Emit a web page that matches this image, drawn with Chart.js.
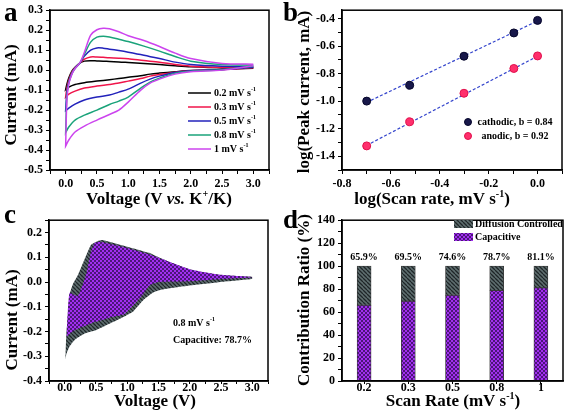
<!DOCTYPE html>
<html>
<head>
<meta charset="utf-8">
<script src="https://cdn.jsdelivr.net/npm/chart.js@4.4.1/dist/chart.umd.min.js"></script>
<style>
  body { margin: 0; background: #fff; }
  canvas { position: absolute; }
</style>
</head>
<body>
<canvas id="cA" width="283" height="210" style="left:0;top:0"></canvas>
<canvas id="cB" width="284" height="210" style="left:283px;top:0"></canvas>
<canvas id="cC" width="283" height="210" style="left:0;top:210px"></canvas>
<canvas id="cD" width="284" height="210" style="left:283px;top:210px"></canvas>
<script>
// ---- panel a: CV curves (V vs. K+/K, mA) ----
const rateLabels = ['0.2 mV s^{-1}', '0.3 mV s^{-1}', '0.5 mV s^{-1}', '0.8 mV s^{-1}', '1 mV s^{-1}'];
const anodV = [0, 0.02, 0.05, 0.1, 0.15, 0.23, 0.3, 0.4, 0.5, 0.6, 0.7, 0.85, 1.0, 1.25, 1.5, 1.75, 2.0, 2.5, 3.0];
const anod02 = [-0.098, -0.07, -0.04, -0.005, 0.014, 0.036, 0.045, 0.047, 0.046, 0.045, 0.043, 0.041, 0.038, 0.033, 0.028, 0.022, 0.017, 0.012, 0.012];
const anod03 = [-0.135, -0.09, -0.05, -0.01, 0.012, 0.036, 0.055, 0.066, 0.066, 0.064, 0.062, 0.06, 0.057, 0.048, 0.04, 0.028, 0.02, 0.014, 0.013];
const anod05 = [-0.203, -0.11, -0.06, -0.015, 0.01, 0.036, 0.07, 0.1, 0.111, 0.11, 0.105, 0.098, 0.09, 0.075, 0.058, 0.04, 0.028, 0.02, 0.018];
const anod08 = [-0.313, -0.13, -0.065, -0.018, 0.008, 0.037, 0.08, 0.14, 0.165, 0.17, 0.166, 0.155, 0.143, 0.12, 0.095, 0.068, 0.045, 0.028, 0.025];
const anod1  = [-0.38, -0.15, -0.07, -0.02, 0.008, 0.038, 0.09, 0.175, 0.202, 0.21, 0.207, 0.192, 0.172, 0.148, 0.118, 0.085, 0.058, 0.033, 0.03];
const cathV = [0, 0.05, 0.15, 0.3, 0.5, 0.7, 0.85, 1.0, 1.2, 1.35, 1.5, 1.75, 2.0, 2.5, 3.0];
const cath02 = [-0.098, -0.085, -0.072, -0.063, -0.055, -0.048, -0.042, -0.036, -0.028, -0.02, -0.015, -0.008, -0.002, 0.003, 0.01];
const cath03 = [-0.135, -0.12, -0.105, -0.09, -0.08, -0.072, -0.065, -0.055, -0.042, -0.03, -0.022, -0.01, -0.003, 0.003, 0.012];
const cath05 = [-0.203, -0.19, -0.17, -0.15, -0.135, -0.125, -0.11, -0.095, -0.065, -0.045, -0.03, -0.012, -0.003, 0.003, 0.015];
const cath08 = [-0.313, -0.285, -0.25, -0.225, -0.2, -0.172, -0.155, -0.135, -0.09, -0.06, -0.04, -0.015, -0.005, 0.002, 0.02];
const cath1  = [-0.38, -0.35, -0.31, -0.28, -0.25, -0.222, -0.2, -0.16, -0.1, -0.065, -0.045, -0.02, -0.008, 0.0, 0.022];
const cvColors = ['#000000', '#f0144a', '#2222bb', '#1aa37a', '#cc44ee'];

// ---- panel b: log(peak current) vs log(scan rate) ----
const logRate = [-0.699, -0.523, -0.301, -0.097, 0.0];
const cathodicLog = [-1.0, -0.885, -0.674, -0.505, -0.414];
const anodicLog = [-1.325, -1.15, -0.943, -0.763, -0.672];
const fitX = [-0.7, 0.0];
const cathodicFit = [-1.01, -0.418];
const anodicFit = [-1.322, -0.674];
const bLabels = ['cathodic, b = 0.84', 'anodic, b = 0.92'];

// ---- panel c: 0.8 mV/s separation ----
const totAnodV = [0.01, 0.03, 0.05, 0.08, 0.13, 0.21, 0.32, 0.42, 0.53, 0.6, 0.8, 1.0, 1.35, 1.5, 2.0, 2.5, 3.0];
const totAnodI = [-0.312, -0.2, -0.14, -0.05, -0.01, 0.027, 0.093, 0.15, 0.166, 0.17, 0.157, 0.143, 0.118, 0.1, 0.05, 0.028, 0.021];
const totCathV = [0.01, 0.03, 0.08, 0.16, 0.32, 0.5, 0.77, 0.98, 1.1, 1.27, 1.43, 1.6, 2.0, 2.5, 3.0];
const totCathI = [-0.312, -0.29, -0.26, -0.234, -0.208, -0.195, -0.162, -0.136, -0.118, -0.07, -0.04, -0.028, -0.014, 0.0, 0.012];
const capAnodV = [0.03, 0.05, 0.08, 0.21, 0.34, 0.42, 0.48, 0.56, 0.8, 1.0, 1.35, 1.5, 2.0, 2.5, 3.0];
const capAnodI = [-0.221, -0.12, -0.044, -0.058, 0.027, 0.119, 0.158, 0.163, 0.15, 0.138, 0.112, 0.098, 0.052, 0.029, 0.02];
const capCathV = [0.03, 0.16, 0.48, 0.74, 0.95, 1.11, 1.27, 1.35, 1.5, 2.0, 2.5, 3.0];
const capCathI = [-0.221, -0.195, -0.162, -0.142, -0.13, -0.09, -0.044, -0.015, 0.0, 0.003, 0.012, 0.018];

// ---- panel d: contribution ratio ----
const scanRates = ['0.2', '0.3', '0.5', '0.8', '1'];
const capacitive = [65.9, 69.5, 74.6, 78.7, 81.1];
const diffusion = [34.1, 30.5, 25.4, 21.3, 18.9];

const SERIF = '"Liberation Serif", "Times New Roman", serif';
const pts = (xs, ys) => xs.map((x, i) => ({x: x, y: ys[i]}));
const loop = (cV, c, aV, a) => pts(cV, c).reverse().concat(pts(aV, a));

// text with ^{sup} and *italic* parts
function rich(ctx, str, x, y, size, opt) {
  opt = opt || {};
  const parts = [];
  const re = /\^\{([^}]*)\}|\*([^*]*)\*|([^^*]+)/g;
  let m;
  while ((m = re.exec(str))) {
    if (m[1] !== undefined) parts.push({t: m[1], sup: true});
    else if (m[2] !== undefined) parts.push({t: m[2], it: true});
    else parts.push({t: m[3]});
  }
  const fontOf = p => (p.it ? 'italic ' : '') + 'bold ' + (p.sup ? Math.round(size * 0.6) : size) + 'px ' + SERIF;
  let w = 0;
  parts.forEach(p => { ctx.font = fontOf(p); p.w = ctx.measureText(p.t).width; w += p.w; });
  ctx.save();
  ctx.translate(x, y);
  if (opt.rot) ctx.rotate(opt.rot);
  let cx = opt.align === 'left' ? 0 : -w / 2;
  ctx.textBaseline = 'middle';
  ctx.textAlign = 'left';
  ctx.fillStyle = '#000';
  parts.forEach(p => { ctx.font = fontOf(p); ctx.fillText(p.t, cx, p.sup ? -size * 0.35 : 0); cx += p.w; });
  ctx.restore();
}

function letter(ctx, ch, x, y) {
  ctx.save();
  ctx.font = 'bold 27px ' + SERIF;
  ctx.fillStyle = '#000';
  ctx.textBaseline = 'alphabetic';
  ctx.fillText(ch, x, y);
  ctx.restore();
}

function framePlugin(extra) {
  return {
    id: 'frame',
    afterDraw(chart) {
      const ctx = chart.ctx, a = chart.chartArea;
      ctx.save();
      ctx.strokeStyle = '#000';
      ctx.lineWidth = 1.5;
      ctx.strokeRect(a.left, a.top, a.right - a.left, a.bottom - a.top);
      ctx.restore();
      extra(chart, ctx);
    }
  };
}

function axis(min, max, step, every, dec, size, pad) {
  return {
    type: 'linear', min: min, max: max,
    afterFit: s => { if (s.isHorizontal()) s.height = size; else s.width = size; },
    ticks: {
      stepSize: step, includeBounds: false, autoSkip: false, maxRotation: 0,
      padding: pad === undefined ? 3 : pad, color: '#000',
      font: {family: SERIF, weight: 'bold', size: 12},
      callback: v => {
        const r = v / every;
        if (Math.abs(r - Math.round(r)) > 1e-6) return '';
        return (Math.abs(v) < 1e-9 ? 0 : v).toFixed(dec);
      }
    },
    grid: {drawOnChartArea: false, tickLength: pad === undefined ? 4 : 3, tickColor: '#000', tickWidth: 1},
    border: {color: '#000', width: 1.5}
  };
}

function tile(size, draw) {
  const c = document.createElement('canvas');
  c.width = c.height = size;
  draw(c.getContext('2d'), size);
  return c;
}
const hatchTile = tile(4, (g, s) => {
  g.fillStyle = '#5f6f70'; g.fillRect(0, 0, s, s);
  g.strokeStyle = '#1f2628'; g.lineWidth = 1.3;
  g.beginPath();
  [-s, 0, s].forEach(o => { g.moveTo(o, 0); g.lineTo(o + s, s); });
  g.stroke();
});
const checkTile = tile(4, (g, s) => {
  g.fillStyle = '#a22ff0'; g.fillRect(0, 0, s, s);
  g.fillStyle = '#4c1679'; g.fillRect(0, 0, 2, 2); g.fillRect(2, 2, 2, 2);
});
const patterns = id => {
  const ctx = document.getElementById(id).getContext('2d');
  return {hatch: ctx.createPattern(hatchTile, 'repeat'), check: ctx.createPattern(checkTile, 'repeat')};
};

const base = {responsive: false, animation: false, events: [],
  plugins: {legend: {display: false}, tooltip: {enabled: false}}};

// ---------- a ----------
const cvA = [[cath02, anod02], [cath03, anod03], [cath05, anod05], [cath08, anod08], [cath1, anod1]];
new Chart(document.getElementById('cA'), {
  type: 'scatter',
  data: {
    datasets: cvA.map((c, i) => ({
      label: rateLabels[i], data: loop(cathV, c[0], anodV, c[1]), showLine: true,
      borderColor: cvColors[i], borderWidth: 1.5, pointRadius: 0, tension: 0.3
    })).reverse()
  },
  options: Object.assign({}, base, {
    layout: {padding: {top: 5, right: 14, left: 0, bottom: 0}},
    scales: {x: axis(-0.25, 3.25, 0.25, 0.5, 1, 40), y: axis(-0.5, 0.3, 0.05, 0.1, 1, 50)}
  }),
  plugins: [framePlugin((chart, ctx) => {
    letter(ctx, 'a', 4, 21);
    rich(ctx, 'Current (mA)', 12, 95, 17, {rot: -Math.PI / 2});
    rich(ctx, 'Voltage (V *vs.* K^{+}/K)', 159, 200, 17);
    rateLabels.forEach((lab, i) => {
      const y = 93 + 14 * i;
      ctx.save();
      ctx.strokeStyle = cvColors[i]; ctx.lineWidth = 1.5;
      ctx.beginPath(); ctx.moveTo(188, y); ctx.lineTo(211, y); ctx.stroke();
      ctx.restore();
      rich(ctx, lab, 214, y, 10, {align: 'left'});
    });
  })]
});

// ---------- b ----------
new Chart(document.getElementById('cB'), {
  type: 'scatter',
  data: {
    datasets: [
      {label: bLabels[0], data: pts(logRate, cathodicLog), pointRadius: 4, backgroundColor: '#18184a', borderColor: '#05052a', borderWidth: 1},
      {label: bLabels[1], data: pts(logRate, anodicLog), pointRadius: 4, backgroundColor: '#ff2f6c', borderColor: '#e0104c', borderWidth: 1},
      {data: pts(fitX, cathodicFit), showLine: true, pointRadius: 0, borderColor: '#3344cc', borderWidth: 1.2, borderDash: [3, 2]},
      {data: pts(fitX, anodicFit), showLine: true, pointRadius: 0, borderColor: '#3344cc', borderWidth: 1.2, borderDash: [3, 2]}
    ]
  },
  options: Object.assign({}, base, {
    layout: {padding: {top: 5, right: 2, left: 0, bottom: 0}},
    scales: {x: axis(-0.8, 0.1, 0.1, 0.2, 1, 40), y: axis(-1.5, -0.34, 0.1, 0.2, 1, 59)}
  }),
  plugins: [framePlugin((chart, ctx) => {
    letter(ctx, 'b', 0, 21);
    rich(ctx, 'log(Peak current, mA)', 22, 92, 17, {rot: -Math.PI / 2});
    rich(ctx, 'log(Scan rate, mV s^{-1})', 149, 200, 17);
    const ds = chart.data.datasets;
    [0, 1].forEach(i => {
      const y = 122 + 14 * i;
      ctx.save();
      ctx.fillStyle = ds[i].backgroundColor; ctx.strokeStyle = ds[i].borderColor;
      ctx.beginPath(); ctx.arc(185, y, 3.5, 0, Math.PI * 2); ctx.fill(); ctx.stroke();
      ctx.restore();
      rich(ctx, ds[i].label, 232, y, 10);
    });
  })]
});

// ---------- c ----------
const pc = patterns('cC');
new Chart(document.getElementById('cC'), {
  type: 'scatter',
  data: {
    datasets: [
      {label: 'Capacitive', data: pts(capAnodV, capAnodI), showLine: true, fill: 1, backgroundColor: pc.check, borderWidth: 0, pointRadius: 0, tension: 0.15},
      {data: pts(capCathV, capCathI), showLine: true, borderWidth: 0, pointRadius: 0, tension: 0.15},
      {label: 'Diffusion Controlled', data: pts(totAnodV, totAnodI), showLine: true, fill: 3, backgroundColor: pc.hatch, borderWidth: 0, pointRadius: 0, tension: 0.15},
      {data: pts(totCathV, totCathI), showLine: true, borderWidth: 0, pointRadius: 0, tension: 0.15}
    ]
  },
  options: Object.assign({}, base, {
    layout: {padding: {top: 6, right: 15, left: 0, bottom: 0}},
    scales: {x: axis(-0.25, 3.25, 0.25, 0.5, 1, 39, -3), y: axis(-0.4, 0.25, 0.05, 0.1, 1, 49)}
  }),
  plugins: [framePlugin((chart, ctx) => {
    letter(ctx, 'c', 4, 13);
    rich(ctx, 'Current (mA)', 13, 110, 17, {rot: -Math.PI / 2});
    rich(ctx, 'Voltage (V)', 155, 192, 17);
    rich(ctx, rateLabels[3], 173, 113, 10, {align: 'left'});
    rich(ctx, 'Capacitive: ' + capacitive[3].toFixed(1) + '%', 173, 130, 10, {align: 'left'});
  })]
});

// ---------- d ----------
const pd = patterns('cD');
const yD = axis(0, 140, 10, 20, 0, 59);
yD.stacked = true;
new Chart(document.getElementById('cD'), {
  type: 'bar',
  data: {
    labels: scanRates,
    datasets: [
      {label: 'Capacitive', data: capacitive, backgroundColor: pd.check, borderColor: '#3a3a3a', borderWidth: 0.8, borderSkipped: false, barThickness: 14},
      {label: 'Diffusion Controlled', data: diffusion, backgroundColor: pd.hatch, borderColor: '#3a3a3a', borderWidth: 0.8, borderSkipped: false, barThickness: 14}
    ]
  },
  options: Object.assign({}, base, {
    layout: {padding: {top: 6, right: 4, left: 0, bottom: 0}},
    scales: {
      x: {
        stacked: true,
        afterFit: s => { s.height = 39; },
        ticks: {color: '#000', padding: -3, maxRotation: 0, font: {family: SERIF, weight: 'bold', size: 12}},
        grid: {offset: false, drawOnChartArea: false, tickLength: 3, tickColor: '#000'},
        border: {color: '#000', width: 1.5}
      },
      y: yD
    }
  }),
  plugins: [framePlugin((chart, ctx) => {
    letter(ctx, 'd', 0, 18);
    rich(ctx, 'Contribution Ratio (%)', 22, 90, 17, {rot: -Math.PI / 2});
    rich(ctx, 'Scan Rate (mV s^{-1})', 170, 192, 17);
    const xs = chart.scales.x, ys = chart.scales.y;
    capacitive.forEach((v, i) => {
      rich(ctx, v.toFixed(1) + '%', xs.getPixelForValue(i), ys.getPixelForValue(100) - 9, 10);
    });
    const ds = chart.data.datasets;
    [1, 0].forEach((k, r) => {
      const y = 14 + 13 * r;
      ctx.save();
      ctx.fillStyle = ds[k].backgroundColor;
      ctx.fillRect(171, y - 4, 19, 8);
      ctx.restore();
      rich(ctx, ds[k].label, 192, y, 10, {align: 'left'});
    });
  })]
});
</script>
</body>
</html>
